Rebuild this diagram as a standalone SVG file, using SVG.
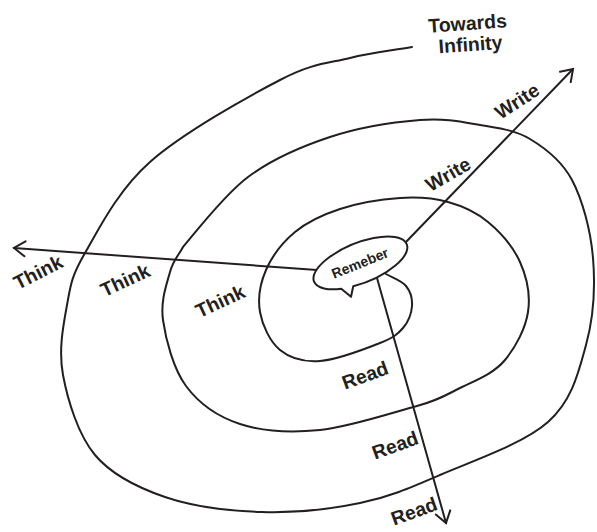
<svg xmlns="http://www.w3.org/2000/svg" width="597" height="532" viewBox="0 0 597 532">
<style>
.ln{fill:none;stroke:#231f20;stroke-width:2;stroke-linecap:round;stroke-linejoin:round}
.lb{font-family:"Liberation Sans",Arial,sans-serif;font-weight:bold;font-size:19.5px;fill:#231f20;text-anchor:middle}
</style>
<defs>
<marker id="arr" viewBox="0 0 16 18" refX="13.5" refY="9" markerWidth="16" markerHeight="18" orient="auto" markerUnits="userSpaceOnUse">
<path d="M2.5,1.5 L13.5,9 L2.5,16.5" fill="none" stroke="#231f20" stroke-width="2" stroke-linecap="round" stroke-linejoin="miter"/>
</marker>
</defs>
<rect width="597" height="532" fill="#fff"/>
<g id="connectors">
<path id="spiral" class="ln" d="M386,274 C392.7,278 401.7,280.7 406,286 C410.3,291.3 412.5,299 412,306 C411.5,313 408.3,321.8 403,328 C397.7,334.2 393.8,337.5 380,343 C366.2,348.5 336.7,359.8 320,361 C303.3,362.2 290,358.2 280,350 C270,341.8 262.3,325.3 260,312 C257.7,298.7 260.2,283.3 266,270 C271.8,256.7 282.7,242.2 295,232 C307.3,221.8 322.5,214.7 340,209 C357.5,203.3 382,199.2 400,198 C418,196.8 433.3,198 448,202 C462.7,206 476,212 488,222 C500,232 513.3,247 520,262 C526.7,277 530.5,295.7 528,312 C525.5,328.3 516,346.7 505,360 C494,373.3 476.7,380 462,387 C447.3,394 440.7,399.7 417,406 C393.3,412.3 349.5,427 320,430 C290.5,433 262.3,431.3 240,424 C217.7,416.7 198.8,403.3 186,386 C173.2,368.7 165.7,339 163,320 C160.3,301 166.7,284.2 170,272 C173.3,259.8 178.7,255.3 183,247 C191,238 223.5,195.3 248,177 C272.5,158.7 301.3,146.5 330,137 C358.7,127.5 395,122 420,120 C445,118 461.7,121.8 480,125 C498.3,128.2 514.7,129.8 530,139 C545.3,148.2 561.5,160.2 572,180 C582.5,199.8 590.7,230.5 593,258 C595.3,285.5 593.5,317.7 586,345 C578.5,372.3 572.3,400.3 548,422 C523.7,443.7 471.3,461.5 440,475 C408.7,488.5 389.7,496.8 360,503 C330.3,509.2 294.5,513 262,512 C229.5,511 192.8,506.5 165,497 C137.2,487.5 112,475.3 95,455 C78,434.7 67.7,400 63,375 C58.3,350 63.3,325.3 67,305 C70.7,284.7 71.2,276.8 85,253 C98.8,229.2 117.5,190.8 150,162 C182.5,133.2 246.7,97.3 280,80 C313.3,62.7 328,63.5 350,58 C372,52.5 391.3,50.7 412,47"/>
<path id="think-arrow" class="ln" d="M317,270 L14,248" marker-end="url(#arr)"/>
<path id="write-arrow" class="ln" d="M405,243 L573,69" marker-end="url(#arr)"/>
<path id="read-arrow" class="ln" d="M377,278 L446,523" marker-end="url(#arr)"/>
</g>
<g id="remember" transform="translate(360,263) rotate(-22)">
<path class="ln" style="fill:#fff" d="M-15,19.1 A50,20 0 1 0 -27,16.8 L-21,28 Z"/>
<text class="lb" x="0" y="5" style="font-size:14px">Remeber</text>
</g>
<g id="label-towards">
<text class="lb" transform="translate(468,30) rotate(-4)">Towards</text>
<text class="lb" transform="translate(471,51) rotate(-4)">Infinity</text>
</g>
<g id="label-think-1"><text class="lb" transform="translate(38,272) rotate(-27)" y="7">Think</text></g>
<g id="label-think-2"><text class="lb" transform="translate(125,280) rotate(-25)" y="7">Think</text></g>
<g id="label-think-3"><text class="lb" transform="translate(220,301) rotate(-25)" y="7">Think</text></g>
<g id="label-write-1"><text class="lb" transform="translate(517,101) rotate(-33)" y="7">Write</text></g>
<g id="label-write-2"><text class="lb" transform="translate(448,174) rotate(-30)" y="7">Write</text></g>
<g id="label-read-1"><text class="lb" transform="translate(365,375) rotate(-20)" y="7">Read</text></g>
<g id="label-read-2"><text class="lb" transform="translate(395,445) rotate(-20)" y="7">Read</text></g>
<g id="label-read-3"><text class="lb" transform="translate(414,511) rotate(-20)" y="7">Read</text></g>
</svg>
